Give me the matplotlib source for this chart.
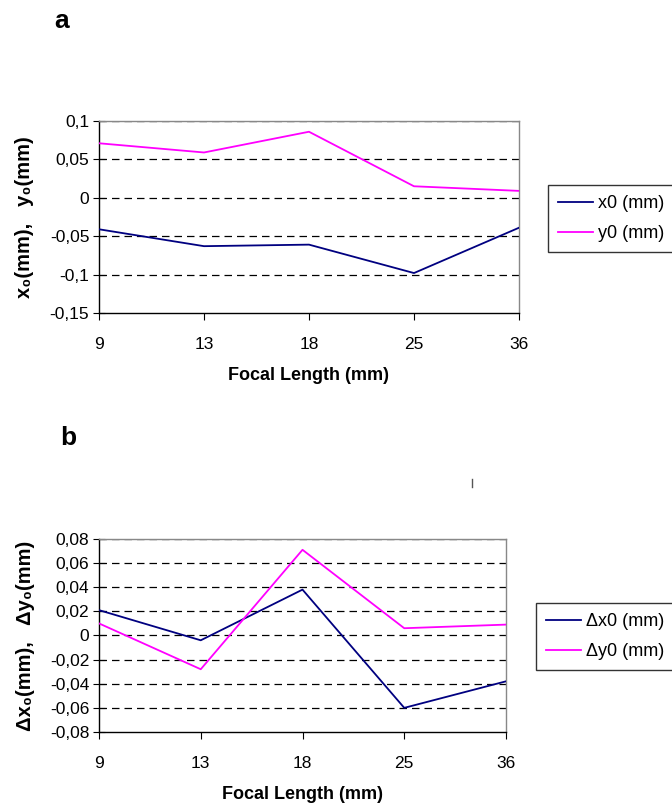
import matplotlib.pyplot as plt
from matplotlib.lines import Line2D
from matplotlib.ticker import FuncFormatter, FixedLocator

plt.rcParams['font.family'] = ['Liberation Sans', 'DejaVu Sans']

# ===== DATA =====
focal_lengths = ["9", "13", "18", "25", "36"]

x0_mm = [-0.041, -0.063, -0.061, -0.098, -0.039]
y0_mm = [0.071, 0.059, 0.086, 0.015, 0.009]

dx0_mm = [0.021, -0.004, 0.038, -0.060, -0.038]
dy0_mm = [0.010, -0.028, 0.071, 0.006, 0.009]

top_ticks = [-0.15, -0.1, -0.05, 0, 0.05, 0.1]
bottom_ticks = [-0.08, -0.06, -0.04, -0.02, 0, 0.02, 0.04, 0.06, 0.08]

NAVY = "#000080"
MAGENTA = "#FF00FF"


def comma_fmt(v, pos):
    s = "%g" % round(v, 4)
    return s.replace(".", ",")


def style_axes(ax, ticks):
    ax.set_xlim(0, len(focal_lengths) - 1)
    ax.set_ylim(ticks[0], ticks[-1])
    ax.set_xticks(range(len(focal_lengths)))
    ax.set_xticklabels(focal_lengths)
    ax.yaxis.set_major_locator(FixedLocator(ticks))
    ax.yaxis.set_major_formatter(FuncFormatter(comma_fmt))
    # dashed gridlines, Excel style
    for t in ticks[1:]:
        ax.axhline(t, color="black", lw=0.9, ls=(0, (6, 4)), zorder=1)
    ax.spines["top"].set_color("#888888")
    ax.spines["right"].set_color("#888888")
    ax.spines["left"].set_color("black")
    ax.spines["bottom"].set_color("black")
    for s in ax.spines.values():
        s.set_linewidth(1.0)
    ax.tick_params(axis="x", direction="out", length=5, pad=12, labelsize=12.5)
    ax.tick_params(axis="y", direction="inout", length=8, pad=3, labelsize=12.5)
    ax.set_xlabel("Focal Length (mm)", fontsize=13, fontweight="bold", labelpad=11)


def add_legend(ax, anchor):
    leg = ax.legend(loc="upper left", bbox_to_anchor=anchor, borderaxespad=0,
                    frameon=True, fancybox=False, edgecolor="black", fontsize=13,
                    handlelength=1.95, handletextpad=0.25, borderpad=0.55,
                    labelspacing=0.72)
    leg.get_frame().set_linewidth(1.0)
    return leg


fig = plt.figure(figsize=(6.72, 8.05), dpi=100)

# ----- panel a -----
ax1 = fig.add_axes([0.1473, 0.6112, 0.625, 0.2385])
ax1.plot(range(len(focal_lengths)), x0_mm, color=NAVY, lw=1.3, label="x0 (mm)", zorder=3)
ax1.plot(range(len(focal_lengths)), y0_mm, color=MAGENTA, lw=1.3, label="y0 (mm)", zorder=3)
style_axes(ax1, top_ticks)
ax1.set_ylabel("x\u2080(mm),   y\u2080(mm)", fontsize=14.5, fontweight="bold", labelpad=11)
add_legend(ax1, (1.069, 0.667))

# ----- panel b -----
ax2 = fig.add_axes([0.1473, 0.0907, 0.6057, 0.2398])
ax2.plot(range(len(focal_lengths)), dx0_mm, color=NAVY, lw=1.3, label="\u0394x0 (mm)", zorder=3)
ax2.plot(range(len(focal_lengths)), dy0_mm, color=MAGENTA, lw=1.3, label="\u0394y0 (mm)", zorder=3)
style_axes(ax2, bottom_ticks)
ax2.set_ylabel("\u0394x\u2080(mm),   \u0394y\u2080(mm)", fontsize=14.5, fontweight="bold", labelpad=11)
add_legend(ax2, (1.074, 0.668))

# panel letters
fig.text(62 / 672, 1 - 21 / 805, "a", fontsize=19, fontweight="bold", va="center", ha="center")
fig.text(68 / 672, 1 - 438 / 805, "b", fontsize=19, fontweight="bold", va="center", ha="center")

# small stray mark in the original
fig.add_artist(Line2D([472 / 672, 472 / 672], [1 - 479 / 805, 1 - 487 / 805],
                      color="#555555", lw=1.0))

fig.savefig("out.png", dpi=100)
